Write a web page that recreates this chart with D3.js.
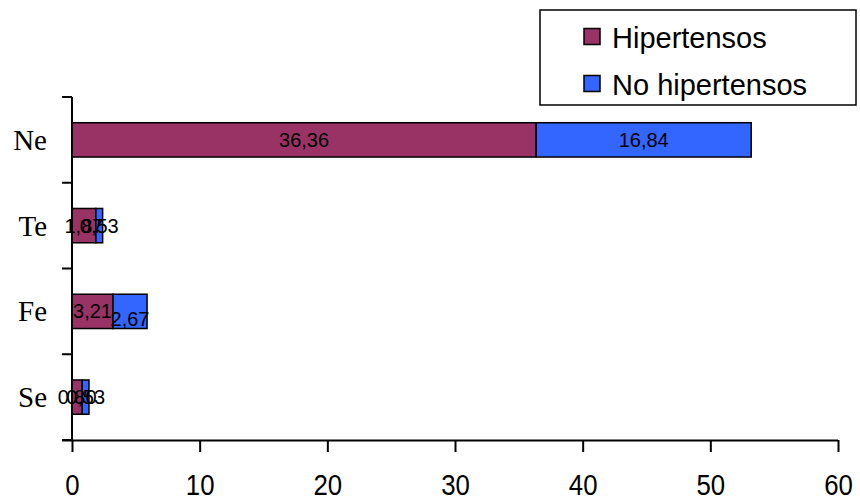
<!DOCTYPE html>
<html>
<head>
<meta charset="utf-8">
<script src="https://cdn.jsdelivr.net/npm/d3@7"></script>
<style>
  html, body { margin: 0; padding: 0; background: #fff; }
  svg { display: block; }
</style>
</head>
<body>
<svg id="chart" width="860" height="501"></svg>
<script>
// ---- data ----
const categories = ["Ne", "Te", "Fe", "Se"];
const hipertensos = [36.36, 1.87, 3.21, 0.80];
const noHipertensos = [16.84, 0.53, 2.67, 0.53];
const seriesNames = ["Hipertensos", "No hipertensos"];
const xTicks = [0, 10, 20, 30, 40, 50, 60];

const colors = ["#993366", "#3366FF"];

const svg = d3.select("#chart");

const x = d3.scaleLinear().domain([0, 60]).range([72, 838]);
const y = d3.scaleBand().domain(categories).range([97, 440]).paddingInner(0.6).paddingOuter(0.3);

const rows = categories.map((c, i) => ({
  cat: c,
  segs: [
    { s: 0, x0: 0, x1: hipertensos[i], v: hipertensos[i] },
    { s: 1, x0: hipertensos[i], x1: hipertensos[i] + noHipertensos[i], v: noHipertensos[i] }
  ]
}));

// bars
const g = svg.append("g");
rows.forEach(r => {
  r.segs.forEach(sg => {
    g.append("rect")
      .attr("x", x(sg.x0))
      .attr("y", y(r.cat))
      .attr("width", x(sg.x1) - x(sg.x0))
      .attr("height", y.bandwidth())
      .attr("fill", colors[sg.s])
      .attr("stroke", "#000")
      .attr("stroke-width", 1.5);
  });
});

// data labels
const fmt = v => d3.format(".2f")(v).replace(".", ",");
const labelShift = { "Fe-1": 8 };
rows.forEach(r => {
  r.segs.forEach(sg => {
    const dy = labelShift[r.cat + "-" + sg.s] || 0;
    g.append("text")
      .attr("x", (x(sg.x0) + x(sg.x1)) / 2)
      .attr("y", y(r.cat) + y.bandwidth() / 2 + 7 + dy)
      .attr("text-anchor", "middle")
      .attr("font-family", "Liberation Sans, Arial, sans-serif")
      .attr("font-size", 20)
      .attr("fill", "#000")
      .text(fmt(sg.v));
  });
});

// x axis
const xAxis = svg.append("g")
  .attr("transform", "translate(0,440)")
  .call(d3.axisBottom(x).tickValues(xTicks).tickSize(12).tickSizeOuter(0).tickFormat(d3.format("d")));
xAxis.select(".domain").attr("stroke", "#000").attr("stroke-width", 2).attr("d", "M62,0.5H838");
xAxis.selectAll(".tick line").attr("stroke", "#000").attr("stroke-width", 2);
xAxis.selectAll(".tick text")
  .attr("font-family", "Liberation Sans, Arial, sans-serif")
  .attr("font-size", 30)
  .attr("fill", "#000")
  .attr("dy", null)
  .attr("y", 55)
  .attr("transform", "scale(0.86,1)");

// y axis
const yAxisG = svg.append("g");
yAxisG.append("line")
  .attr("x1", 72).attr("x2", 72).attr("y1", 97).attr("y2", 440)
  .attr("stroke", "#000").attr("stroke-width", 2);
const bounds = d3.range(categories.length + 1).map(i => 97 + i * (343 / categories.length));
bounds.forEach(b => {
  yAxisG.append("line")
    .attr("x1", 62).attr("x2", 72).attr("y1", b).attr("y2", b)
    .attr("stroke", "#000").attr("stroke-width", 2);
});
categories.forEach(c => {
  yAxisG.append("text")
    .attr("x", 47)
    .attr("y", y(c) + y.bandwidth() / 2 + 10)
    .attr("text-anchor", "end")
    .attr("font-family", "Liberation Serif, Times New Roman, serif")
    .attr("font-size", 29)
    .attr("fill", "#000")
    .text(c);
});

// legend
const lg = svg.append("g");
lg.append("rect")
  .attr("x", 540).attr("y", 10).attr("width", 316).attr("height", 95)
  .attr("fill", "#fff").attr("stroke", "#000").attr("stroke-width", 1.5);
seriesNames.forEach((n, i) => {
  const cy = 37 + i * 47;
  lg.append("rect")
    .attr("x", 584).attr("y", cy - 8.5).attr("width", 16).attr("height", 16)
    .attr("fill", colors[i]).attr("stroke", "#000").attr("stroke-width", 1.5);
  lg.append("text")
    .attr("x", 612).attr("y", cy + 10.5)
    .attr("font-family", "Liberation Sans, Arial, sans-serif")
    .attr("font-size", 29)
    .attr("fill", "#000")
    .text(n);
});
</script>
</body>
</html>
